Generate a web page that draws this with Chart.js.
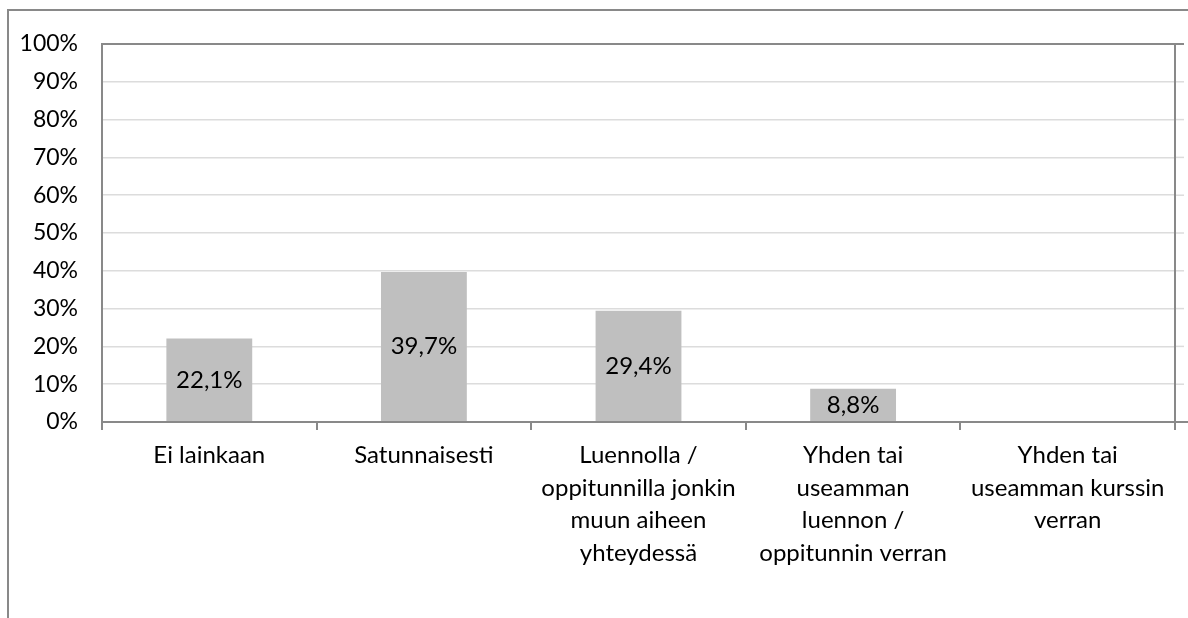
<!DOCTYPE html>
<html>
<head>
<meta charset="utf-8">
<script src="https://cdn.jsdelivr.net/npm/chart.js@4"></script>
<style>
    html, body { margin: 0; padding: 0; background: #fff; overflow: hidden; }
    #frame {
        position: absolute; left: 7px; top: 9px;
        width: 1300px; height: 700px;
        border-left: 2px solid #898989; border-top: 2px solid #898989;
    }
    #wrap { position: absolute; left: 0; top: 0; width: 1188px; height: 618px; }
</style>
</head>
<body>
<div id="frame"></div>
<div id="wrap"><canvas id="myChart"></canvas></div>
<script>
const categories = [
    ["Ei lainkaan"],
    ["Satunnaisesti"],
    ["Luennolla /", "oppitunnilla jonkin", "muun aiheen", "yhteydessä"],
    ["Yhden tai", "useamman", "luennon /", "oppitunnin verran"],
    ["Yhden tai", "useamman kurssin", "verran"]
];
const values = [22.1, 39.7, 29.4, 8.8, 0];
const yTicks = [0, 10, 20, 30, 40, 50, 60, 70, 80, 90, 100];

const FONT = 'Lato, "Open Sans", sans-serif';

// draws the value inside each bar, in the middle
const barValueLabels = {
    id: 'barValueLabels',
    afterDatasetsDraw(chart) {
        const ctx = chart.ctx;
        const meta = chart.getDatasetMeta(0);
        ctx.save();
        ctx.font = '24px ' + FONT;
        ctx.fillStyle = '#000';
        ctx.textAlign = 'center';
        ctx.textBaseline = 'middle';
        meta.data.forEach((bar, i) => {
            const v = values[i];
            if (!v) return;
            const txt = v.toFixed(1).replace('.', ',') + '%';
            ctx.fillText(txt, bar.x, (bar.y + bar.base) / 2);
        });
        ctx.restore();
    }
};

// plot area border + the little overhang of gridlines on the right
const plotBorder = {
    id: 'plotBorder',
    afterDraw(chart) {
        const a = chart.chartArea;
        const ctx = chart.ctx;
        const y = chart.scales.y;
        ctx.save();
        ctx.lineWidth = 1.5;
        ctx.strokeStyle = '#DCDCDC';
        yTicks.forEach(v => {
            const py = y.getPixelForValue(v);
            ctx.beginPath();
            ctx.moveTo(a.right, py);
            ctx.lineTo(a.right + 9, py);
            ctx.stroke();
        });
        ctx.strokeStyle = '#898989';
        ctx.lineWidth = 2;
        ctx.beginPath();
        ctx.moveTo(a.right, a.top);
        ctx.lineTo(a.right + 9, a.top);
        ctx.moveTo(a.right, a.bottom);
        ctx.lineTo(a.right + 13, a.bottom);
        ctx.stroke();
        ctx.strokeRect(a.left, a.top, a.right - a.left, a.bottom - a.top);
        ctx.restore();
    }
};

const ctx = document.getElementById('myChart').getContext('2d');
new Chart(ctx, {
    type: 'bar',
    data: {
        labels: categories,
        datasets: [{
            data: values,
            backgroundColor: '#BFBFBF',
            borderWidth: 0,
            categoryPercentage: 1,
            barPercentage: 0.4
        }]
    },
    options: {
        responsive: true,
        maintainAspectRatio: false,
        animation: false,
        events: [],
        layout: { padding: { top: 44, right: 13, bottom: 0, left: 0 } },
        scales: {
            y: {
                min: 0,
                max: 100,
                afterFit: s => { s.width = 102; },
                afterBuildTicks: s => { s.ticks = yTicks.map(v => ({ value: v })); },
                border: { display: false },
                grid: { color: '#DCDCDC', lineWidth: 1.5, drawTicks: false },
                ticks: {
                    padding: 24,
                    color: '#000',
                    font: { family: FONT, size: 23 },
                    callback: v => v + '%'
                }
            },
            x: {
                afterFit: s => { s.height = 196; },
                border: { display: false },
                grid: { drawOnChartArea: false, drawTicks: true, tickLength: 8, color: '#898989', lineWidth: 2 },
                ticks: {
                    padding: 9,
                    color: '#000',
                    maxRotation: 0,
                    autoSkip: false,
                    font: { family: FONT, size: 24, lineHeight: 1.355 }
                }
            }
        },
        plugins: {
            legend: { display: false },
            title: { display: false },
            tooltip: { enabled: false }
        }
    },
    plugins: [barValueLabels, plotBorder]
});
</script>
</body>
</html>
